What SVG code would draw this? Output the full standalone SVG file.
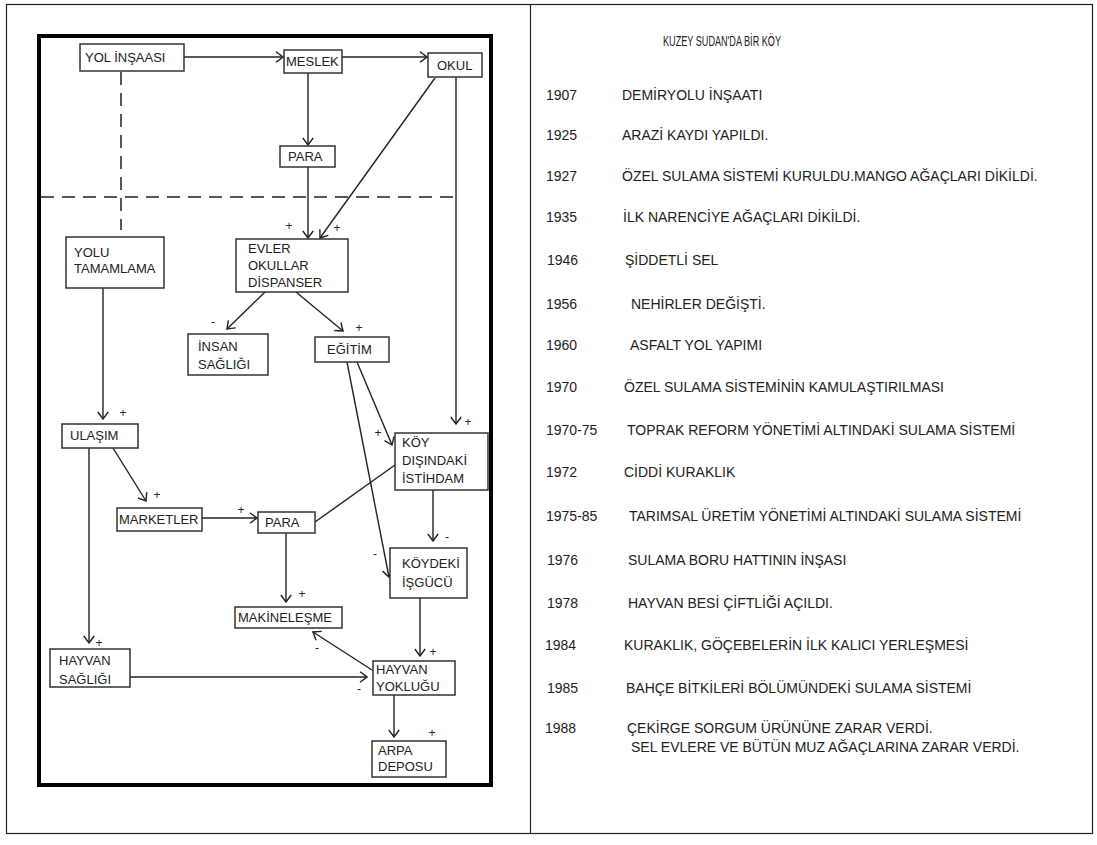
<svg xmlns="http://www.w3.org/2000/svg" width="1097" height="845" viewBox="0 0 1097 845">
<style>
.box{fill:#fff;stroke:#333;stroke-width:1.5}
.lbl{font-family:"Liberation Sans",Arial,sans-serif;font-size:13px;fill:#222}
.sgn{font-family:"Liberation Sans",Arial,sans-serif;font-size:12px;fill:#222;text-anchor:middle}
.ln{stroke:#222;stroke-width:1.4;fill:none}
.ar{stroke:#222;stroke-width:1.4;fill:none;marker-end:url(#arr)}
.ds{stroke:#222;stroke-width:1.5;fill:none;stroke-dasharray:13 8}
.tx{font-family:"Liberation Sans",Arial,sans-serif;font-size:14px;fill:#222}
</style>
<defs>
<marker id="arr" viewBox="0 0 9 12" refX="8" refY="6" markerWidth="9" markerHeight="12" markerUnits="userSpaceOnUse" orient="auto">
<path d="M1,0.8 L8,6 L1,11.2" fill="none" stroke="#222" stroke-width="1.4"/>
</marker>
</defs>
<rect width="1097" height="845" fill="#fff"/>
<g id="frame">
<rect x="6.5" y="4.5" width="1086" height="829" fill="none" stroke="#222" stroke-width="1.2"/>
<line x1="530.5" y1="4.5" x2="530.5" y2="833.5" stroke="#222" stroke-width="1.2"/>
<rect x="39" y="36" width="452" height="749" fill="none" stroke="#000" stroke-width="4"/>
</g>
<g id="connectors">
<line class="ar" x1="184" y1="57" x2="283" y2="57"/>
<line class="ar" x1="342" y1="57" x2="427" y2="57"/>
<line class="ar" x1="308" y1="73" x2="308" y2="145"/>
<line class="ar" x1="308" y1="167" x2="308" y2="238"/>
<line class="ar" x1="435" y1="78" x2="320" y2="238"/>
<line class="ar" x1="456" y1="77" x2="456" y2="424"/>
<line class="ds" x1="121" y1="72" x2="121" y2="230"/>
<line class="ds" x1="41" y1="197" x2="460" y2="197"/>
<line class="ar" x1="265" y1="292" x2="227" y2="329"/>
<line class="ar" x1="296" y1="292" x2="343" y2="331"/>
<line class="ar" x1="357" y1="362" x2="392" y2="445"/>
<line class="ar" x1="347" y1="362" x2="389" y2="577"/>
<line class="ln" x1="395" y1="465" x2="315" y2="522"/>
<line class="ar" x1="433" y1="490" x2="433" y2="541"/>
<line class="ar" x1="103" y1="288" x2="103" y2="419"/>
<line class="ar" x1="113" y1="448" x2="146" y2="501"/>
<line class="ar" x1="202" y1="518" x2="257" y2="518"/>
<line class="ar" x1="89" y1="448" x2="89" y2="643"/>
<line class="ar" x1="286" y1="533" x2="286" y2="602"/>
<line class="ar" x1="130" y1="677" x2="367" y2="677"/>
<line class="ar" x1="372" y1="670" x2="313" y2="632"/>
<line class="ar" x1="420" y1="598" x2="420" y2="656"/>
<line class="ar" x1="394" y1="695" x2="394" y2="737"/>
</g>
<g id="signs">
<text class="sgn" x="289" y="230">+</text>
<text class="sgn" x="337" y="232">+</text>
<text class="sgn" x="213" y="326">-</text>
<text class="sgn" x="359" y="332">+</text>
<text class="sgn" x="123" y="417">+</text>
<text class="sgn" x="157" y="499">+</text>
<text class="sgn" x="241" y="514">+</text>
<text class="sgn" x="378" y="437">+</text>
<text class="sgn" x="468" y="426">+</text>
<text class="sgn" x="447" y="541">-</text>
<text class="sgn" x="375" y="558">-</text>
<text class="sgn" x="302" y="598">+</text>
<text class="sgn" x="99" y="647">+</text>
<text class="sgn" x="317" y="652">-</text>
<text class="sgn" x="359" y="693">-</text>
<text class="sgn" x="433" y="656">+</text>
<text class="sgn" x="432" y="737">+</text>
</g>
<g id="n-yol-insaasi"><rect class="box" x="80" y="44" width="104" height="27"/><text class="lbl" x="85" y="62">YOL İNŞAASI</text></g>
<g id="n-meslek"><rect class="box" x="284" y="50" width="58" height="23"/><text class="lbl" x="286" y="66">MESLEK</text></g>
<g id="n-okul"><rect class="box" x="428" y="53" width="54" height="24"/><text class="lbl" x="437" y="70">OKUL</text></g>
<g id="n-para1"><rect class="box" x="280" y="146" width="55" height="21"/><text class="lbl" x="288" y="161">PARA</text></g>
<g id="n-yolu-tamamlama"><rect class="box" x="66" y="237" width="98" height="51"/><text class="lbl" x="74" y="257">YOLU</text><text class="lbl" x="74" y="273">TAMAMLAMA</text></g>
<g id="n-evler"><rect class="box" x="236" y="239" width="112" height="53"/><text class="lbl" x="248" y="253">EVLER</text><text class="lbl" x="248" y="270">OKULLAR</text><text class="lbl" x="248" y="287">DİSPANSER</text></g>
<g id="n-insan-sagligi"><rect class="box" x="188" y="334" width="80" height="41"/><text class="lbl" x="198" y="351">İNSAN</text><text class="lbl" x="198" y="369">SAĞLIĞI</text></g>
<g id="n-egitim"><rect class="box" x="315" y="337" width="74" height="25"/><text class="lbl" x="327" y="354">EĞİTİM</text></g>
<g id="n-ulasim"><rect class="box" x="62" y="424" width="76" height="24"/><text class="lbl" x="70" y="440">ULAŞIM</text></g>
<g id="n-koy-disindaki"><rect class="box" x="395" y="433" width="93" height="57"/><text class="lbl" x="402" y="447">KÖY</text><text class="lbl" x="402" y="465">DIŞINDAKİ</text><text class="lbl" x="402" y="483">İSTİHDAM</text></g>
<g id="n-marketler"><rect class="box" x="117" y="508" width="85" height="23"/><text class="lbl" x="119" y="524">MARKETLER</text></g>
<g id="n-para2"><rect class="box" x="258" y="512" width="57" height="21"/><text class="lbl" x="265" y="527">PARA</text></g>
<g id="n-koydeki-isgucu"><rect class="box" x="390" y="548" width="77" height="50"/><text class="lbl" x="402" y="568">KÖYDEKİ</text><text class="lbl" x="402" y="587">İŞGÜCÜ</text></g>
<g id="n-makinelesme"><rect class="box" x="235" y="607" width="107" height="21"/><text class="lbl" x="238" y="622">MAKİNELEŞME</text></g>
<g id="n-hayvan-sagligi"><rect class="box" x="50" y="649" width="80" height="38"/><text class="lbl" x="59" y="665">HAYVAN</text><text class="lbl" x="59" y="684">SAĞLIĞI</text></g>
<g id="n-hayvan-yoklugu"><rect class="box" x="373" y="661" width="82" height="34"/><text class="lbl" x="376" y="674">HAYVAN</text><text class="lbl" x="376" y="691">YOKLUĞU</text></g>
<g id="n-arpa-deposu"><rect class="box" x="372" y="741" width="74" height="36"/><text class="lbl" x="378" y="755">ARPA</text><text class="lbl" x="378" y="771">DEPOSU</text></g>
<g id="timeline">
<text class="tx" x="663" y="46" textLength="118" lengthAdjust="spacingAndGlyphs">KUZEY SUDAN'DA BİR KÖY</text>
<text class="tx" x="546" y="100">1907</text><text class="tx" x="622" y="100">DEMİRYOLU İNŞAATI</text>
<text class="tx" x="546" y="140">1925</text><text class="tx" x="622" y="140">ARAZİ KAYDI YAPILDI.</text>
<text class="tx" x="546" y="181">1927</text><text class="tx" x="622" y="181">ÖZEL SULAMA SİSTEMİ KURULDU.MANGO AĞAÇLARI DİKİLDİ.</text>
<text class="tx" x="546" y="222">1935</text><text class="tx" x="623" y="222">İLK NARENCİYE AĞAÇLARI DİKİLDİ.</text>
<text class="tx" x="547" y="265">1946</text><text class="tx" x="625" y="265">ŞİDDETLİ SEL</text>
<text class="tx" x="546" y="309">1956</text><text class="tx" x="631" y="309">NEHİRLER DEĞİŞTİ.</text>
<text class="tx" x="546" y="350">1960</text><text class="tx" x="630" y="350">ASFALT YOL YAPIMI</text>
<text class="tx" x="546" y="392">1970</text><text class="tx" x="624" y="392">ÖZEL SULAMA SİSTEMİNİN KAMULAŞTIRILMASI</text>
<text class="tx" x="546" y="435">1970-75</text><text class="tx" x="627" y="435">TOPRAK REFORM YÖNETİMİ ALTINDAKİ SULAMA SİSTEMİ</text>
<text class="tx" x="546" y="477">1972</text><text class="tx" x="624" y="477">CİDDİ KURAKLIK</text>
<text class="tx" x="546" y="521">1975-85</text><text class="tx" x="629" y="521">TARIMSAL ÜRETİM YÖNETİMİ ALTINDAKİ SULAMA SİSTEMİ</text>
<text class="tx" x="547" y="565">1976</text><text class="tx" x="628" y="565">SULAMA BORU HATTININ İNŞASI</text>
<text class="tx" x="547" y="608">1978</text><text class="tx" x="628" y="608">HAYVAN BESİ ÇİFTLİĞİ AÇILDI.</text>
<text class="tx" x="545" y="650">1984</text><text class="tx" x="624" y="650">KURAKLIK, GÖÇEBELERİN İLK KALICI YERLEŞMESİ</text>
<text class="tx" x="547" y="693">1985</text><text class="tx" x="626" y="693">BAHÇE BİTKİLERİ BÖLÜMÜNDEKİ SULAMA SİSTEMİ</text>
<text class="tx" x="545" y="733">1988</text><text class="tx" x="627" y="733">ÇEKİRGE SORGUM ÜRÜNÜNE ZARAR VERDİ.</text>
<text class="tx" x="631" y="752">SEL EVLERE VE BÜTÜN MUZ AĞAÇLARINA ZARAR VERDİ.</text>
</g>
</svg>
